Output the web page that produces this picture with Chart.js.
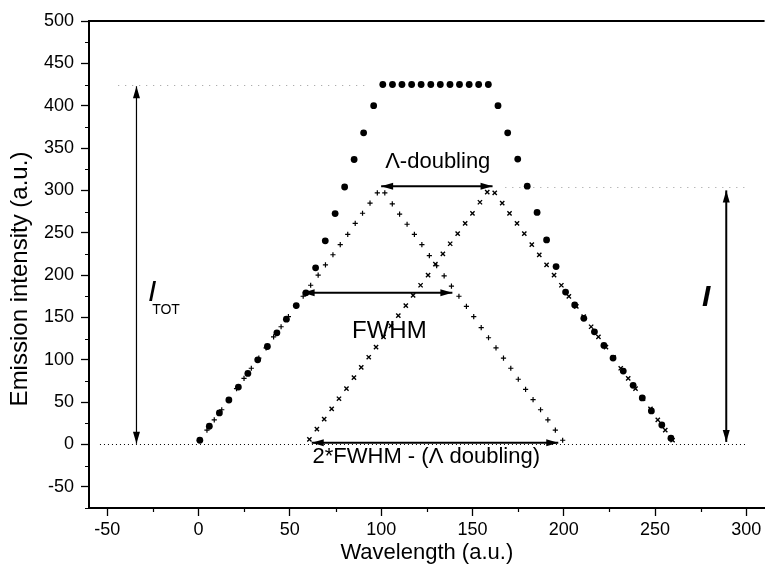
<!DOCTYPE html>
<html>
<head>
<meta charset="utf-8">
<script src="https://cdn.jsdelivr.net/npm/chart.js@4.4.0/dist/chart.umd.min.js"></script>
<style>
html, body { margin: 0; padding: 0; background: #fff; }
</style>
</head>
<body>
<canvas id="chart" width="770" height="576"></canvas>
<script>
/* data */
var circleX = [0.7, 5.9, 11.4, 16.6, 21.8, 27.0, 32.4, 37.7, 42.9, 48.1, 53.5, 58.8, 64.1, 69.4, 74.8, 80.0, 85.2, 90.4, 95.9,
    100.9, 106.2, 111.4, 116.7, 121.9, 127.2, 132.4, 137.7, 142.9, 148.2, 153.4, 158.7,
    164.0, 169.3, 174.8, 180.0, 185.4, 190.6, 195.8, 201.0, 206.0, 211.0, 216.8, 222.0, 227.0, 232.6, 238.0, 243.0, 248.0, 253.7, 258.7];
var circleY = [5, 21.5, 37.3, 52.5, 67.8, 83.9, 100, 115.7, 131.8, 148, 164, 179, 208.6, 240.4, 272.6, 304, 336.5, 368, 400,
    425, 425, 425, 425, 425, 425, 425, 425, 425, 425, 425, 425,
    400, 368, 337, 305, 274, 241.5, 210, 180, 164.7, 149, 133, 117, 102, 86.7, 69.8, 55, 39.6, 23, 7.4];

var plusX = [0.5, 4.6, 8.6, 12.7, 16.7, 20.8, 24.9, 28.9, 33.0, 37.0, 41.1, 45.2, 49.2, 53.3, 57.3, 61.4, 65.5, 69.5, 73.6, 77.6,
    81.7, 85.8, 89.8, 93.9, 97.9, 102.0, 106.1, 110.1, 114.2, 118.2, 122.3, 126.4, 130.4, 134.5, 138.5, 142.6, 146.7, 150.7,
    154.8, 158.8, 162.9, 167.0, 171.0, 175.1, 179.1, 183.2, 187.3, 191.3, 195.4, 199.4];
var plusY = [5, 17, 29, 41, 53, 66, 78, 90, 102, 114, 127, 139, 151, 163, 175, 188, 200, 212, 224, 236,
    248, 261, 273, 285, 297, 297, 284, 272, 260, 248, 236, 223, 211, 199, 187, 175, 163, 151,
    138, 126, 114, 102, 90, 77, 65, 53, 41, 29, 17, 5];

var crossX = [60.7, 64.8, 68.8, 72.9, 76.9, 81.0, 85.1, 89.1, 93.2, 97.2, 101.3, 105.4, 109.4, 113.5, 117.5, 121.6, 125.7, 129.7,
    133.8, 137.8, 141.9, 146.0, 150.0, 154.1, 158.1, 162.2, 166.3, 170.3, 174.4, 178.4, 182.5, 186.6, 190.6, 194.7, 198.7,
    202.8, 206.9, 210.9, 215.0, 219.0, 223.1, 227.2, 231.2, 235.3, 239.3, 243.4, 247.5, 251.5, 255.6, 259.6];
var crossY = [6, 18, 30, 42, 54, 66, 79, 91, 103, 115, 127, 140, 152, 164, 176, 188, 200, 213, 225, 237,
    249, 261, 273, 286, 298, 297, 285, 273, 261, 249, 236, 224, 212, 200, 188, 175, 163, 151, 139, 127,
    115, 103, 90, 78, 66, 54, 42, 29, 17, 5];

/* tick labels */
var xTicks = [-50, 0, 50, 100, 150, 200, 250, 300];
var xMinor = [-25, 25, 75, 125, 175, 225, 275];
var yTicks = [-50, 0, 50, 100, 150, 200, 250, 300, 350, 400, 450, 500];
var yMinor = [-75, -25, 25, 75, 125, 175, 225, 275, 325, 375, 425, 475];

var fontName = "'Liberation Sans', Arial, Helvetica, sans-serif";

function toPoints(xs, ys) {
    var pts = [];
    for (var i = 0; i < xs.length; i++) {
        pts.push({ x: xs[i], y: ys[i] });
    }
    return pts;
}

function drawArrow(ctx, x1, y1, x2, y2, lw) {
    var head = 12, half = 3.5;
    var ang = Math.atan2(y2 - y1, x2 - x1);
    ctx.lineWidth = lw;
    ctx.beginPath();
    ctx.moveTo(x1, y1);
    ctx.lineTo(x2, y2);
    ctx.stroke();
    function tip(x, y, a) {
        var c = Math.cos(a), s = Math.sin(a);
        ctx.beginPath();
        ctx.moveTo(x, y);
        ctx.lineTo(x - head * c + half * s, y - head * s - half * c);
        ctx.lineTo(x - head * c - half * s, y - head * s + half * c);
        ctx.closePath();
        ctx.fill();
    }
    tip(x2, y2, ang);
    tip(x1, y1, ang + Math.PI);
}

/* dotted guide lines, under the markers */
var guidePlugin = {
    id: 'guides',
    beforeDatasetsDraw: function(chart) {
        var ctx = chart.ctx, xs = chart.scales.x, ys = chart.scales.y;
        function dotted(xa, xb, yv, color, dash) {
            ctx.save();
            ctx.strokeStyle = color;
            ctx.lineWidth = 1;
            ctx.setLineDash(dash);
            ctx.beginPath();
            ctx.moveTo(xs.getPixelForValue(xa), Math.round(ys.getPixelForValue(yv)) + 0.5);
            ctx.lineTo(xs.getPixelForValue(xb), Math.round(ys.getPixelForValue(yv)) + 0.5);
            ctx.stroke();
            ctx.restore();
        }
        dotted(-54, 300, 0, '#000', [1, 3]);
        dotted(-44, 92, 425, '#999', [1, 6]);
        dotted(168, 302, 304, '#999', [1, 6]);
    }
};

/* arrows, labels, minor ticks, y title and top frame line */
var notePlugin = {
    id: 'notes',
    afterDatasetsDraw: function(chart) {
        var ctx = chart.ctx, xs = chart.scales.x, ys = chart.scales.y;
        var area = chart.chartArea;
        function px(v) { return xs.getPixelForValue(v); }
        function py(v) { return ys.getPixelForValue(v); }

        ctx.save();
        ctx.strokeStyle = '#000';
        ctx.fillStyle = '#000';

        drawArrow(ctx, px(-34), py(1), px(-34), py(423), 1.2);
        drawArrow(ctx, px(289), py(3), px(289), py(300), 2);
        drawArrow(ctx, px(100), py(305), px(161), py(305), 2);
        drawArrow(ctx, px(57), py(179), px(139), py(179), 2);
        drawArrow(ctx, px(62), py(2), px(197), py(2), 2);

        ctx.textAlign = 'center';
        ctx.textBaseline = 'middle';
        ctx.font = '22px ' + fontName;
        ctx.fillText('\u039B-doubling', px(131), py(334));
        ctx.fillText('2*FWHM - (\u039B doubling)', px(124.7), py(-15));
        ctx.font = '24px ' + fontName;
        ctx.fillText('FWHM', px(104.5), py(134));

        ctx.font = 'italic 30px ' + fontName;
        ctx.fillText('I', px(-25.4), py(179));
        ctx.font = 'italic bold 30px ' + fontName;
        ctx.fillText('I', px(278), py(173));
        ctx.textAlign = 'left';
        ctx.font = '14px ' + fontName;
        ctx.fillText('TOT', px(-25.4), py(159));

        // y axis title
        ctx.save();
        ctx.translate(20, 279);
        ctx.rotate(-Math.PI / 2);
        ctx.textAlign = 'center';
        ctx.font = '24px ' + fontName;
        ctx.fillText('Emission intensity (a.u.)', 0, 0);
        ctx.restore();

        // minor ticks
        ctx.lineWidth = 1.2;
        ctx.beginPath();
        for (var i = 0; i < yMinor.length; i++) {
            var y = Math.round(py(yMinor[i])) + 0.5;
            ctx.moveTo(area.left, y);
            ctx.lineTo(area.left - 4, y);
        }
        for (var j = 0; j < xMinor.length; j++) {
            var x = Math.round(px(xMinor[j])) + 0.5;
            ctx.moveTo(x, area.bottom);
            ctx.lineTo(x, area.bottom + 4);
        }
        ctx.stroke();

        // top frame line
        ctx.lineWidth = 2;
        ctx.beginPath();
        ctx.moveTo(area.left, area.top);
        ctx.lineTo(area.right, area.top);
        ctx.stroke();
        ctx.restore();
    }
};

var chartData = {
    datasets: [{
        label: 'sum',
        data: toPoints(circleX, circleY),
        pointStyle: 'circle',
        pointRadius: 3.4,
        backgroundColor: '#000',
        borderColor: '#000',
        borderWidth: 0,
        showLine: false
    }, {
        label: 'plus',
        data: toPoints(plusX, plusY),
        pointStyle: 'cross',
        pointRadius: 2.6,
        borderColor: '#000',
        borderWidth: 1.2,
        showLine: false
    }, {
        label: 'cross',
        data: toPoints(crossX, crossY),
        pointStyle: 'crossRot',
        pointRadius: 3,
        borderColor: '#000',
        borderWidth: 1.4,
        showLine: false
    }]
};

var ctx = document.getElementById('chart').getContext('2d');
window.theChart = new Chart(ctx, {
    type: 'scatter',
    data: chartData,
    plugins: [guidePlugin, notePlugin],
    options: {
        responsive: false,
        animation: false,
        devicePixelRatio: 1,
        layout: { padding: { top: 21, right: 0, bottom: 0, left: 0 } },
        plugins: {
            legend: { display: false },
            tooltip: { enabled: false }
        },
        scales: {
            x: {
                type: 'linear',
                min: -60,
                max: 310,
                afterFit: function(scale) { scale.height = 68; },
                afterBuildTicks: function(scale) {
                    scale.ticks = xTicks.map(function(v) { return { value: v }; });
                },
                border: { display: true, color: '#000', width: 2 },
                grid: { drawOnChartArea: false, drawTicks: true, tickLength: 8, tickWidth: 1.3, tickColor: '#000' },
                ticks: { color: '#000', padding: 3, maxRotation: 0, font: { family: fontName, size: 18 } },
                title: {
                    display: true,
                    text: 'Wavelength (a.u.)',
                    color: '#000',
                    padding: { top: 0, bottom: 10 },
                    font: { family: fontName, size: 22 }
                }
            },
            y: {
                type: 'linear',
                min: -75,
                max: 500,
                afterFit: function(scale) { scale.width = 89; },
                afterBuildTicks: function(scale) {
                    scale.ticks = yTicks.map(function(v) { return { value: v }; });
                },
                border: { display: true, color: '#000', width: 2 },
                grid: { drawOnChartArea: false, drawTicks: true, tickLength: 8, tickWidth: 1.3, tickColor: '#000' },
                ticks: { color: '#000', padding: 7, font: { family: fontName, size: 18 } },
                title: { display: false }
            }
        }
    }
});
</script>
</body>
</html>
